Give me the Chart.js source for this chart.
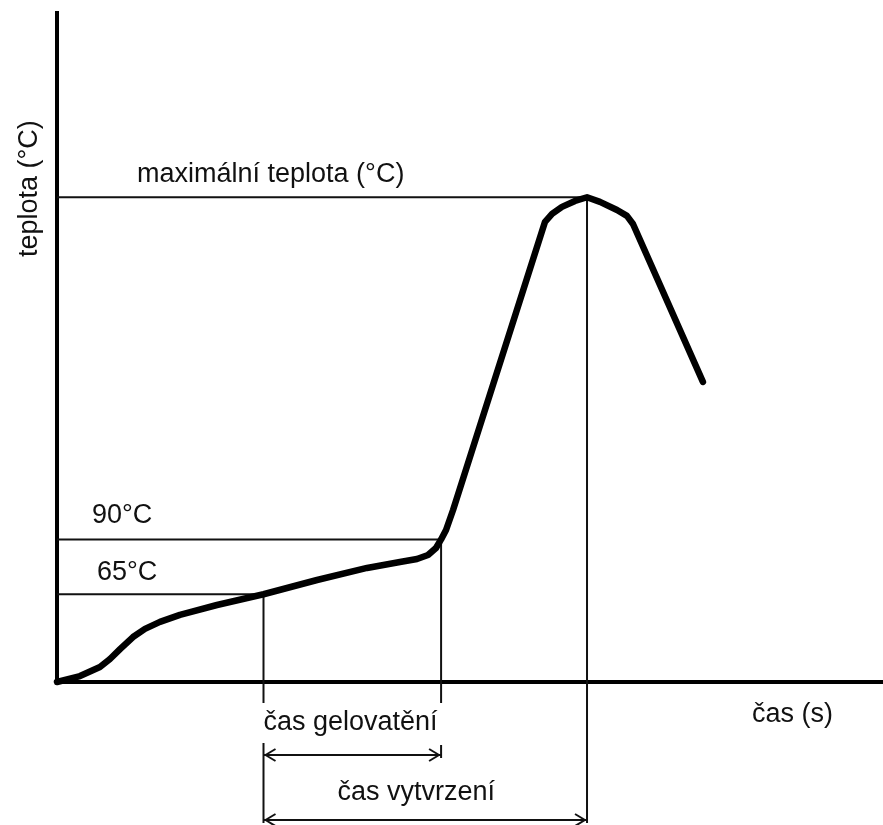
<!DOCTYPE html>
<html>
<head>
<meta charset="utf-8">
<script src="https://cdn.jsdelivr.net/npm/chart.js@4.4.1/dist/chart.umd.min.js"></script>
<style>
  html, body { margin: 0; padding: 0; background: #fff; }
  #wrap { width: 883px; height: 825px; }
</style>
</head>
<body>
<div id="wrap"><canvas id="curingChart" width="883" height="825"></canvas></div>
<script>
// exotherm of a curing resin: time (s) vs temperature (°C)
const timeS = [0, 16.7, 31.2, 38.5, 45.8, 55.2, 63.9, 74.8, 89.3, 116.2, 150, 188.9, 225.2, 249.1, 261.5, 269.5, 275.3, 279, 282.6, 287.7, 354.5, 359.6, 366.8, 376.3, 385, 394.4, 406.8, 414, 418.4, 469.2];
const tempC = [25, 27.7, 31.8, 35.5, 40, 45.5, 49.2, 52.4, 55.6, 60.1, 65, 71.5, 77, 79.7, 81.1, 82.9, 86.1, 90, 94.3, 103.4, 234.8, 238.4, 241.6, 244.3, 246, 243.9, 240.2, 237.5, 233.8, 161.8];

// guide temperatures and their labels
const markTemps = [65, 90];
const markLabels = ['65°C', '90°C'];
const peakTemp = 246;
const peakTime = 385;

// gel time runs 65°C -> 90°C, cure time 65°C -> peak
const gelTimes = [150, 279];
const cureTimes = [150, 385];

const axisTitles = ['čas (s)', 'teplota (°C)'];
const peakLabel = 'maximální teplota (°C)';
const spanLabels = ['čas gelovatění', 'čas vytvrzení'];

const FONT = '27px "Liberation Sans", Arial, sans-serif';
const INK = '#111';

const guides = {
  id: 'guides',
  beforeDatasetsDraw(chart) {
    const { ctx, chartArea: a, scales: { x, y } } = chart;
    const px = v => x.getPixelForValue(v);
    const py = v => y.getPixelForValue(v);
    const base = a.bottom;
    const seg = (x1, y1, x2, y2) => { ctx.beginPath(); ctx.moveTo(x1, y1); ctx.lineTo(x2, y2); ctx.stroke(); };

    ctx.save();
    ctx.strokeStyle = INK;
    ctx.lineWidth = 2;

    // horizontals from the y axis to the curve
    seg(a.left, py(peakTemp), px(peakTime) + 6, py(peakTemp));
    seg(a.left, py(markTemps[1]), px(gelTimes[1]), py(markTemps[1]));
    seg(a.left, py(markTemps[0]), px(gelTimes[0]), py(markTemps[0]));

    // verticals dropped below the time axis
    const xg = px(gelTimes[0]), xe = px(gelTimes[1]), xp = px(cureTimes[1]);
    seg(xg, py(markTemps[0]), xg, base + 21);
    seg(xg, base + 61, xg, base + 141);
    seg(xe, py(markTemps[1]), xe, base + 21);
    seg(xe, base + 63, xe, base + 76);
    seg(xp, py(peakTemp), xp, base + 141);

    // double arrows under the axis
    const arrow = (x1, x2, yy) => {
      seg(x1, yy, x2, yy);
      seg(x1 + 12, yy - 6, x1 + 2, yy); seg(x1 + 2, yy, x1 + 12, yy + 6);
      seg(x2 - 12, yy - 6, x2 - 2, yy); seg(x2 - 2, yy, x2 - 12, yy + 6);
    };
    arrow(xg, xe, base + 73);
    arrow(px(cureTimes[0]), xp, base + 138);
    ctx.restore();
  },
  afterDraw(chart) {
    const { ctx, chartArea: a, scales: { x, y } } = chart;
    const px = v => x.getPixelForValue(v);
    const py = v => y.getPixelForValue(v);
    const base = a.bottom;

    ctx.save();
    ctx.fillStyle = INK;
    ctx.font = FONT;
    ctx.textAlign = 'left';
    ctx.textBaseline = 'alphabetic';
    ctx.fillText(peakLabel, a.left + 80, py(peakTemp) - 15);
    ctx.fillText(markLabels[1], a.left + 35, py(markTemps[1]) - 16);
    ctx.fillText(markLabels[0], a.left + 40, py(markTemps[0]) - 14);
    ctx.fillText(spanLabels[0], px(gelTimes[0]), base + 48);
    ctx.fillText(spanLabels[1], px(cureTimes[0]) + 74, base + 118);
    ctx.fillText(axisTitles[0], a.right - 131, base + 40);

    ctx.translate(a.left - 20, a.top + 244);
    ctx.rotate(-Math.PI / 2);
    ctx.fillText(axisTitles[1], 0, 0);
    ctx.restore();
  }
};

const bareAxis = (min, max) => ({
  type: 'linear',
  min, max,
  grid: { display: false, drawTicks: false },
  ticks: { display: false },
  border: { display: true, color: '#000', width: 4 }
});

new Chart(document.getElementById('curingChart'), {
  type: 'scatter',
  data: {
    datasets: [{
      data: timeS.map((t, i) => ({ x: t, y: tempC[i] })),
      showLine: true,
      borderColor: '#000',
      borderWidth: 6.5,
      pointRadius: 0,
      tension: 0,
      borderCapStyle: 'round',
      borderJoinStyle: 'round',
      clip: false
    }]
  },
  options: {
    responsive: false,
    animation: false,
    events: [],
    layout: { padding: { left: 57, top: 13, right: 0, bottom: 143 }, autoPadding: false },
    plugins: { legend: { display: false }, tooltip: { enabled: false } },
    scales: { x: bareAxis(0, 600), y: bareAxis(25, 330) }
  },
  plugins: [guides]
});
</script>
</body>
</html>
